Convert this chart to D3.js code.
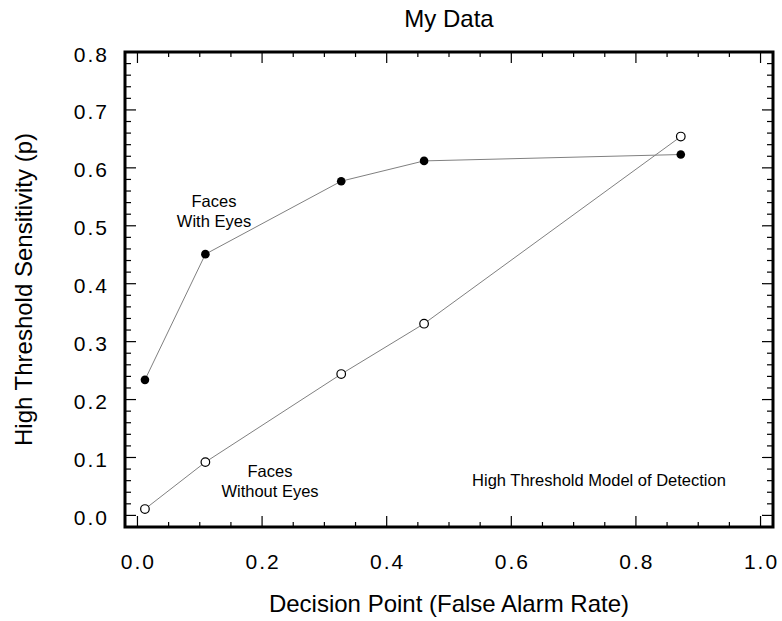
<!DOCTYPE html>
<html lang="en">
<head>
<meta charset="UTF-8">
<title>My Data</title>
<script src="https://d3js.org/d3.v7.min.js"></script>
<style>
    body { margin: 0; background: #fff; }
    svg { display: block; font-family: Arial, "Liberation Sans", sans-serif; }
    .tick-label { font-size: 21px; fill: #000; }
    .axis-label { font-size: 24px; fill: #000; }
    .note { font-size: 16.5px; fill: #000; }
</style>
</head>
<body>
<svg width="782" height="621"></svg>
<script>
// data
const falseAlarm = [0.012, 0.109, 0.327, 0.46, 0.872];
const withEyes = [0.234, 0.451, 0.577, 0.612, 0.623];
const withoutEyes = [0.011, 0.092, 0.244, 0.331, 0.654];
const xTicks = [0, 0.2, 0.4, 0.6, 0.8, 1.0];
const yTicks = [0, 0.1, 0.2, 0.3, 0.4, 0.5, 0.6, 0.7, 0.8];

const width = 782, height = 621;
const margin = { top: 52, right: 9, bottom: 94, left: 125 };

const svg = d3.select("svg");

const x = d3.scaleLinear()
    .domain([-0.02, 1.02])
    .range([margin.left, width - margin.right]);
const y = d3.scaleLinear()
    .domain([-0.02, 0.8])
    .range([height - margin.bottom, margin.top]);

const x0 = margin.left, x1 = width - margin.right;
const y0 = height - margin.bottom, y1 = margin.top;
const cx = (x0 + x1) / 2, cy = (y0 + y1) / 2;

// minor / major ticks on all four sides, pointing inward
const xMinor = d3.range(0, 1.0001, 0.05);
const yMinor = d3.range(0, 0.8001, 0.02);
const isMajor = (v, step) => Math.abs(v / step - Math.round(v / step)) < 1e-6;

const ticks = svg.append("g").attr("stroke", "#000").attr("stroke-width", 1.2);
xMinor.forEach(v => {
    const len = isMajor(v, 0.2) ? 11 : 5;
    ticks.append("line").attr("x1", x(v)).attr("x2", x(v)).attr("y1", y0).attr("y2", y0 - len);
    ticks.append("line").attr("x1", x(v)).attr("x2", x(v)).attr("y1", y1).attr("y2", y1 + len);
});
yMinor.forEach(v => {
    const len = isMajor(v, 0.1) ? 11 : 6;
    ticks.append("line").attr("x1", x0).attr("x2", x0 + len).attr("y1", y(v)).attr("y2", y(v));
    ticks.append("line").attr("x1", x1).attr("x2", x1 - len).attr("y1", y(v)).attr("y2", y(v));
});

// frame
svg.append("rect")
    .attr("x", x0).attr("y", y1)
    .attr("width", x1 - x0).attr("height", y0 - y1)
    .attr("fill", "none").attr("stroke", "#000").attr("stroke-width", 3);

// tick labels
svg.selectAll(".xtl").data(xTicks).join("text")
    .attr("class", "tick-label")
    .attr("x", d => x(d) + 1).attr("y", 569)
    .attr("text-anchor", "middle")
    .attr("letter-spacing", 2)
    .text(d => d.toFixed(1));
svg.selectAll(".ytl").data(yTicks).join("text")
    .attr("class", "tick-label")
    .attr("x", 109).attr("y", d => y(d) + 9.5)
    .attr("text-anchor", "end")
    .attr("letter-spacing", 2)
    .text(d => d.toFixed(1));

// titles
svg.append("text").attr("class", "axis-label")
    .attr("x", cx).attr("y", 27).attr("text-anchor", "middle").text("My Data");
svg.append("text").attr("class", "axis-label")
    .attr("x", cx).attr("y", 612).attr("text-anchor", "middle")
    .text("Decision Point (False Alarm Rate)");
svg.append("text").attr("class", "axis-label")
    .attr("transform", `translate(32, ${cy}) rotate(-90)`)
    .attr("text-anchor", "middle")
    .text("High Threshold Sensitivity (p)");

// series
const line = d3.line().x(d => x(d[0])).y(d => y(d[1]));
const eyes = falseAlarm.map((f, i) => [f, withEyes[i]]);
const noEyes = falseAlarm.map((f, i) => [f, withoutEyes[i]]);

svg.append("path").datum(eyes).attr("d", line)
    .attr("fill", "none").attr("stroke", "#808080").attr("stroke-width", 1);
svg.append("path").datum(noEyes).attr("d", line)
    .attr("fill", "none").attr("stroke", "#808080").attr("stroke-width", 1);

svg.selectAll(".filled").data(eyes).join("circle")
    .attr("cx", d => x(d[0])).attr("cy", d => y(d[1])).attr("r", 4.3)
    .attr("fill", "#000");
svg.selectAll(".open").data(noEyes).join("circle")
    .attr("cx", d => x(d[0])).attr("cy", d => y(d[1])).attr("r", 4.3)
    .attr("fill", "#fff").attr("stroke", "#000").attr("stroke-width", 1.2);

// notes
const note = (tx, ty, lines) => {
    const t = svg.append("text").attr("class", "note").attr("text-anchor", "middle");
    lines.forEach((s, i) => t.append("tspan").attr("x", tx).attr("y", ty + i * 20).text(s));
};
note(214, 207, ["Faces", "With Eyes"]);
note(270, 477, ["Faces", "Without Eyes"]);
note(599, 486, ["High Threshold Model of Detection"]);
</script>
</body>
</html>
